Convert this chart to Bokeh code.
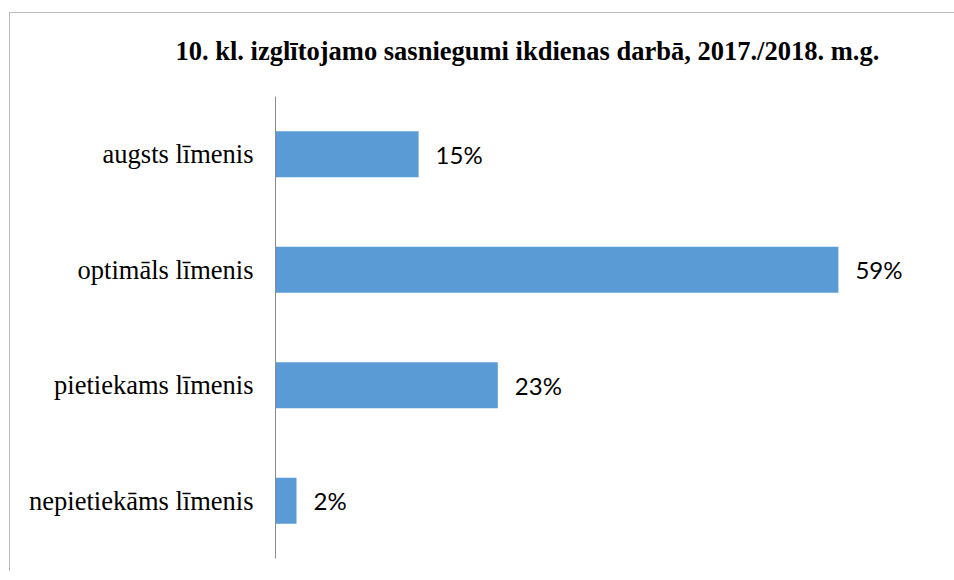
from bokeh.plotting import figure
from bokeh.models import ColumnDataSource, FactorRange, Range1d, Title
from bokeh.core.properties import value
from bokeh.embed import file_html
from bokeh.resources import INLINE

categories = ["augsts līmenis", "optimāls līmenis", "pietiekams līmenis", "nepietiekāms līmenis"]
values = [15.0, 59.0, 23.3, 2.2]
labels = ["15%", "59%", "23%", "2%"]
title_text = "10. kl. izglītojamo sasniegumi ikdienas darbā, 2017./2018. m.g."

src = ColumnDataSource(dict(cat=categories, val=values, lab=labels))

p = figure(
    width=945, height=569,
    y_range=FactorRange(factors=list(reversed(categories))),
    x_range=Range1d(0, 70.75),
    output_backend="svg", toolbar_location=None,
    min_border_left=266, min_border_right=4, min_border_top=94, min_border_bottom=13,
)
p.title = Title(text=title_text, align="left", offset=-100, standoff=62,
                text_font="Liberation Serif", text_font_size="26.5px",
                text_font_style="bold", text_color="#000000")
p.border_fill_color = None
p.background_fill_color = "#ffffff"
p.styles = {
    "background": ("linear-gradient(#bcbcbc, #bcbcbc) 0px 10px / 100% 1px no-repeat, "
                   "linear-gradient(#bcbcbc, #bcbcbc) 0px 10px / 1px 100% no-repeat, #ffffff"),
    "margin-top": "2px", "margin-left": "9px",
}

p.hbar(y="cat", right="val", left=0, height=0.4, source=src,
       fill_color="#5B9BD5", line_color=None)
p.text(x="val", y="cat", text="lab", source=src, x_offset=17,
       text_align="left", text_baseline="middle",
       text_font=value("Lato"), text_font_size="24px", text_color="#000000")

p.xaxis.visible = False
p.xgrid.grid_line_color = None
p.ygrid.grid_line_color = None
p.outline_line_color = None
yax = p.yaxis[0]
yax.axis_line_color = "#8c8c8c"
yax.major_tick_line_color = None
yax.minor_tick_line_color = None
yax.major_tick_out = 0
yax.major_tick_in = 0
yax.major_label_standoff = 22
yax.major_label_text_font = "Liberation Serif"
yax.major_label_text_font_size = "26.5px"
yax.major_label_text_color = "#000000"

open("out.html", "w").write(file_html(p, INLINE))
